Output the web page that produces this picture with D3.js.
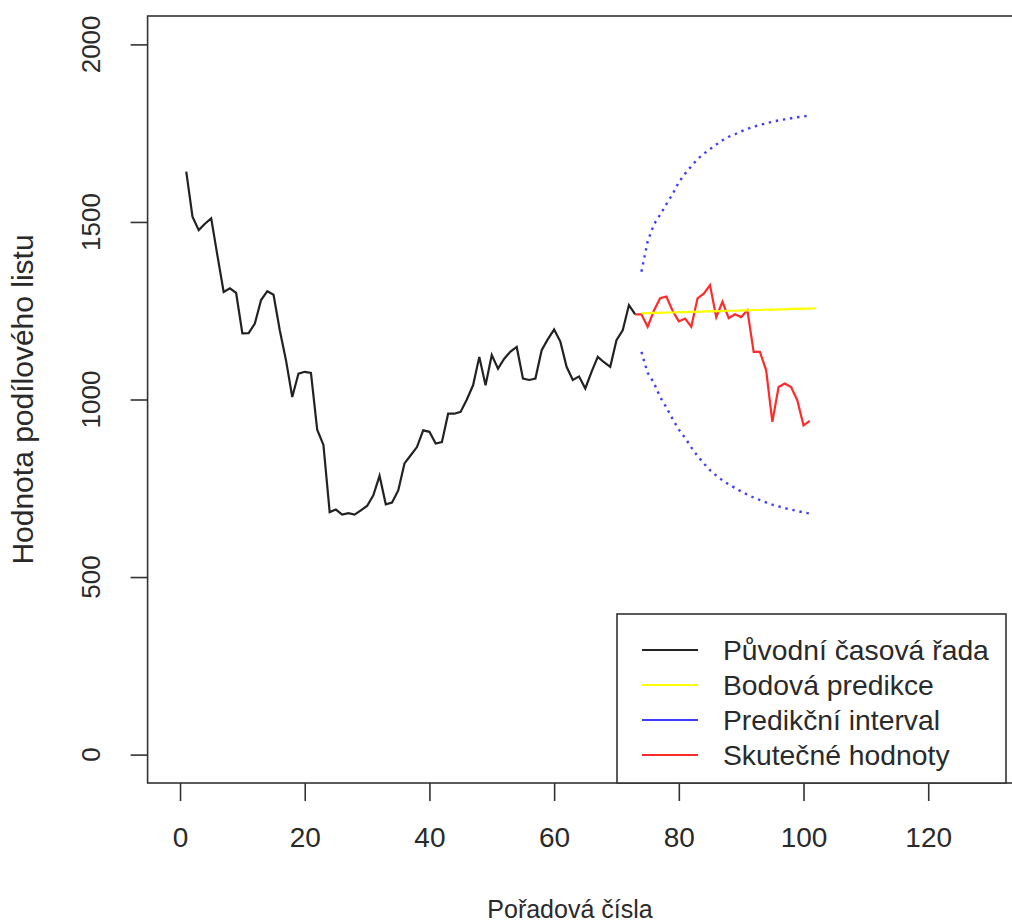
<!DOCTYPE html>
<html>
<head>
<meta charset="utf-8">
<script src="https://cdn.jsdelivr.net/npm/d3@7"></script>
<style>
  body { margin: 0; background: #fff; }
  svg text { font-family: "Liberation Sans", Arial, sans-serif; fill: #2a2a2a; }
</style>
</head>
<body>
<div id="chart"></div>
<script>
// data
var origStart = 1
var origValues = [1642, 1515, 1477, 1495, 1510, 1405, 1303, 1313, 1300, 1186,
    1187, 1214, 1280, 1305, 1295, 1195, 1110, 1007, 1073, 1078,
    1075, 915, 872, 683, 690, 676, 680, 676, 688, 700,
    730, 785, 705, 710, 744, 820, 843, 866, 913, 909,
    876, 880, 960, 960, 965, 1000, 1040, 1120, 1040, 1125,
    1087, 1115, 1135, 1148, 1059, 1055, 1059, 1139, 1170, 1197,
    1163, 1092, 1055, 1065, 1031, 1078, 1120, 1105, 1092, 1167,
    1195, 1266, 1240]

var realStart = 73
var realValues = [1240, 1240, 1205, 1250, 1285, 1290, 1250, 1220, 1228, 1205,
    1285, 1298, 1322, 1232, 1275, 1229, 1240, 1232, 1251, 1134,
    1134, 1083, 937, 1035, 1045, 1035, 998, 927, 940]

var predStart = 74
var predValues = [1243, 1243, 1244, 1244, 1245, 1245, 1246, 1246, 1247, 1247,
    1248, 1248, 1249, 1249, 1250, 1250, 1251, 1251, 1252, 1252,
    1253, 1253, 1254, 1254, 1255, 1255, 1256, 1256, 1257]

var intStart = 74
var upperValues = [1360, 1445, 1493, 1520, 1550, 1578, 1612, 1636, 1657, 1677,
    1692, 1705, 1718, 1730, 1740, 1747, 1755, 1762, 1768, 1773,
    1778, 1782, 1786, 1789, 1792, 1795, 1797, 1800]
var lowerValues = [1134, 1075, 1047, 1007, 978, 945, 915, 892, 865, 841,
    820, 801, 786, 772, 761, 751, 741, 732, 724, 717,
    710, 704, 699, 694, 690, 686, 682, 679]

var xTicks = [0, 20, 40, 60, 80, 100, 120]
var yTicks = [0, 500, 1000, 1500, 2000]

var legendLabels = ["Původní časová řada", "Bodová predikce", "Predikční interval", "Skutečné hodnoty"]
var legendColors = ["#222222", "#ffff00", "#3c3cff", "#ff2a2a"]

var width = 1012, height = 923
var plot = { left: 147.6, right: 1023, top: 16, bottom: 783 }

var svg = d3.select("#chart")
    .append("svg")
    .attr("width", width)
    .attr("height", height)

var x = d3.scaleLinear()
    .domain([-5.2, 135.2])
    .range([plot.left, plot.right])

var y = d3.scaleLinear()
    .domain([-80, 2080])
    .range([plot.bottom, plot.top])

function toPoints(start, values) {
    return values.map(function (v, i) { return [start + i, v] })
}

var line = d3.line()
    .x(function (d) { return x(d[0]) })
    .y(function (d) { return y(d[1]) })

// frame
svg.append("rect")
    .attr("x", plot.left)
    .attr("y", plot.top)
    .attr("width", plot.right - plot.left)
    .attr("height", plot.bottom - plot.top)
    .attr("fill", "none")
    .attr("stroke", "#333")
    .attr("stroke-width", 1.6)

// x axis
var xAxis = svg.append("g")
    .attr("transform", "translate(0," + plot.bottom + ")")
    .call(d3.axisBottom(x).tickValues(xTicks).tickSize(18).tickPadding(26))
xAxis.select(".domain").remove()
xAxis.selectAll("line").attr("stroke", "#333").attr("stroke-width", 1.6)
xAxis.selectAll("text").attr("font-size", 28).attr("fill", "#2a2a2a")
    .style("font-family", "'Liberation Sans', Arial, sans-serif")

// y axis (labels rotated like base R)
var yAxis = svg.append("g")
    .attr("transform", "translate(" + plot.left + ",0)")
    .call(d3.axisLeft(y).tickValues(yTicks).tickSize(17).tickFormat(function (d) { return "" }))
yAxis.select(".domain").remove()
yAxis.selectAll("line").attr("stroke", "#333").attr("stroke-width", 1.6)

svg.selectAll(".ylab")
    .data(yTicks)
    .enter()
    .append("text")
    .attr("class", "ylab")
    .attr("transform", function (d) { return "translate(100," + y(d) + ") rotate(-90)" })
    .attr("text-anchor", "middle")
    .attr("font-size", 26)
    .text(function (d) { return d })

// axis titles
svg.append("text")
    .attr("x", 570)
    .attr("y", 918)
    .attr("text-anchor", "middle")
    .attr("font-size", 25)
    .text("Pořadová čísla")

svg.append("text")
    .attr("transform", "translate(33," + ((plot.top + plot.bottom) / 2) + ") rotate(-90)")
    .attr("text-anchor", "middle")
    .attr("font-size", 30)
    .text("Hodnota podílového listu")

// series
svg.append("path")
    .datum(toPoints(origStart, origValues))
    .attr("fill", "none")
    .attr("stroke", legendColors[0])
    .attr("stroke-width", 2.2)
    .attr("d", line)

svg.append("path")
    .datum(toPoints(realStart, realValues))
    .attr("fill", "none")
    .attr("stroke", legendColors[3])
    .attr("stroke-width", 2.2)
    .attr("d", line)

svg.append("path")
    .datum(toPoints(predStart, predValues))
    .attr("fill", "none")
    .attr("stroke", legendColors[1])
    .attr("stroke-width", 2.2)
    .attr("d", line)

;[upperValues, lowerValues].forEach(function (vals) {
    svg.append("path")
        .datum(toPoints(intStart, vals))
        .attr("fill", "none")
        .attr("stroke", legendColors[2])
        .attr("stroke-width", 2.4)
        .attr("stroke-dasharray", "2.4,4.8")
        .attr("d", line)
})

// legend
var legend = svg.append("g")
legend.append("rect")
    .attr("x", 617)
    .attr("y", 614)
    .attr("width", 389)
    .attr("height", plot.bottom - 614)
    .attr("fill", "#fff")
    .attr("stroke", "#333")
    .attr("stroke-width", 1.6)

var rows = legend.selectAll(".row")
    .data(legendLabels)
    .enter()
    .append("g")
    .attr("transform", function (d, i) { return "translate(0," + (650 + i * 35) + ")" })

rows.append("line")
    .attr("x1", 642)
    .attr("x2", 698)
    .attr("stroke", function (d, i) { return legendColors[i] })
    .attr("stroke-width", 2)

rows.append("text")
    .attr("x", 723)
    .attr("dy", "0.35em")
    .attr("font-size", 28.3)
    .text(function (d) { return d })
</script>
</body>
</html>
